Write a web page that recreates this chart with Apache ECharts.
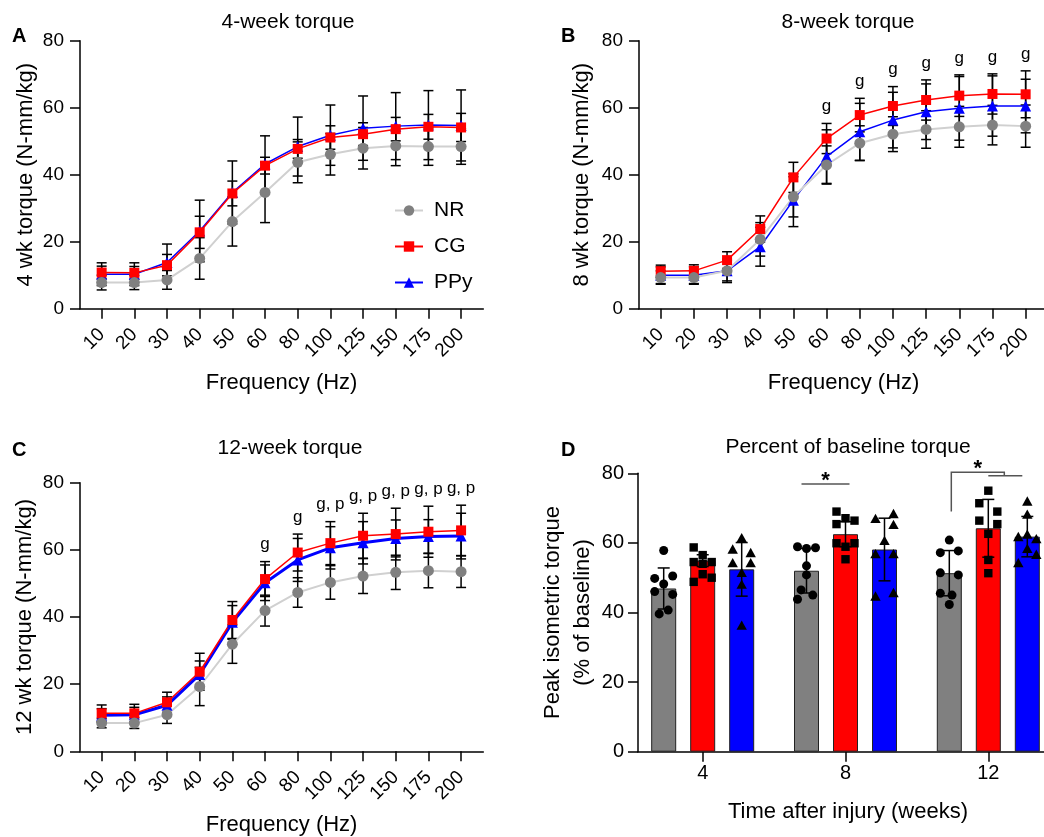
<!DOCTYPE html>
<html><head><meta charset="utf-8">
<script src="https://cdn.jsdelivr.net/npm/echarts@6/dist/echarts.min.js"></script>
<style>html,body{margin:0;padding:0;background:#fff}#c{width:1044px;height:837px}</style>
</head><body><div id="c"></div>
<script>
const FONT = '"Liberation Sans", Arial, Helvetica, sans-serif';

// ---------- data ----------
const freqLabels = ['10','20','30','40','50','60','80','100','125','150','175','200'];

// Panel A (4 weeks) mean / SD, N-mm/kg
const nrA  = [7.8, 7.8, 8.6, 15.0, 26.0, 34.7, 43.7, 46.1, 47.9, 48.6, 48.4, 48.4];
const nrA_sd = [2.2, 2.1, 2.8, 6.2, 7.3, 9.0, 6.1, 6.2, 6.2, 5.9, 5.6, 5.3];
const cgA  = [10.8, 10.7, 13.0, 22.8, 34.4, 42.7, 47.7, 51.1, 52.1, 53.6, 54.3, 54.1];
const cgA_sd = [1.9, 1.9, 3.2, 4.8, 3.7, 2.5, 2.8, 3.5, 3.4, 3.5, 3.7, 4.2];
const ppyA = [10.3, 10.3, 13.8, 23.2, 34.7, 43.2, 48.4, 51.8, 53.9, 54.5, 54.8, 54.7];
const ppyA_sd = [3.4, 3.4, 5.5, 9.2, 9.4, 8.4, 8.8, 9.0, 9.6, 10.0, 10.3, 10.6];

// Panel B (8 weeks)
const nrB  = [9.3, 9.3, 11.3, 20.7, 33.4, 42.9, 49.4, 52.1, 53.5, 54.3, 54.8, 54.5];
const nrB_sd = [2.0, 2.0, 3.0, 5.0, 6.0, 5.7, 5.2, 5.2, 5.6, 6.1, 5.9, 6.3];
const cgB  = [11.2, 11.3, 14.5, 23.8, 39.2, 50.8, 57.8, 60.5, 62.3, 63.6, 64.1, 64.0];
const cgB_sd = [1.8, 1.8, 2.5, 3.9, 4.5, 4.5, 5.0, 5.8, 6.0, 6.2, 6.0, 7.0];
const ppyB = [10.0, 10.0, 11.3, 18.5, 32.4, 45.4, 52.8, 56.3, 58.8, 59.8, 60.5, 60.5];
const ppyB_sd = [2.5, 2.5, 3.5, 5.8, 7.9, 8.0, 8.5, 8.3, 8.3, 9.5, 9.0, 8.0];
const sigB = ['', '', '', '', '', 'g', 'g', 'g', 'g', 'g', 'g', 'g'];

// Panel C (12 weeks)
const nrC  = [8.4, 8.4, 10.9, 19.3, 31.9, 41.9, 47.3, 50.3, 52.2, 53.3, 53.8, 53.5];
const nrC_sd = [1.4, 1.6, 2.6, 5.7, 5.7, 4.6, 4.4, 5.0, 5.2, 5.1, 5.1, 4.7];
const cgC  = [11.3, 11.3, 14.6, 23.7, 39.1, 51.3, 59.2, 62.0, 64.2, 64.7, 65.4, 65.8];
const cgC_sd = [2.5, 2.7, 3.0, 5.5, 5.5, 5.2, 5.5, 6.4, 6.7, 7.7, 7.6, 7.5];
const ppyC = [10.7, 10.9, 13.7, 22.9, 38.4, 50.2, 57.0, 60.6, 62.1, 63.4, 64.0, 64.1];
const ppyC_sd = [2.0, 2.2, 2.5, 4.0, 5.0, 5.3, 6.4, 6.3, 6.3, 5.5, 5.0, 6.8];
const sigC = ['', '', '', '', '', 'g', 'g', 'g, p', 'g, p', 'g, p', 'g, p', 'g, p'];

// Panel D (% of baseline), groups = weeks
const weekLabels = ['4', '8', '12'];
const nrD  = [46.9, 52.0, 51.3];
const nrD_sd = [5.9, 6.4, 6.5];
const cgD  = [54.9, 62.5, 64.2];
const cgD_sd = [1.7, 3.6, 8.3];
const ppyD = [52.4, 58.1, 61.8];
const ppyD_sd = [7.7, 9.0, 5.8];
// individual animals: [value, column (-1 left, 0 centre, 1 right)]
const nrD_pts = [
  [[57.8,0],[49.8,-1],[50.5,1],[48.2,0],[46.0,-1],[45.2,1],[39.6,-0.5],[40.7,0.5]],
  [[58.9,-1],[58.4,0],[58.6,1],[53.4,0],[50.8,0],[46.5,-0.6],[43.8,-1],[45.0,0.7]],
  [[60.8,0],[57.2,-1],[57.7,1],[51.4,-1],[50.8,1],[45.5,-1],[45.0,0.3],[42.3,0]]
];
const cgD_pts = [
  [[58.7,-1],[56.5,0],[54.5,-1],[54.0,0],[54.5,1],[51.0,0],[50.0,1],[48.8,-1]],
  [[69.0,-1],[67.1,0],[65.4,-1],[66.4,1],[59.9,-1],[58.9,0],[59.9,1],[55.3,0]],
  [[75.0,0],[71.4,-1],[69.0,1],[66.4,-1],[65.4,1],[62.6,0],[55.1,0],[51.3,0]]
];
const ppyD_pts = [
  [[61.3,0],[58.0,-1],[57.0,1],[54.1,-1],[54.1,1],[51.3,0],[47.9,0],[36.1,0]],
  [[66.8,-1],[68.2,1],[65.1,1],[60.5,0],[56.7,-1],[56.7,1],[44.5,-1],[45.5,1]],
  [[71.8,0],[68.0,0],[61.6,-1],[62.3,0],[61.0,1],[58.2,0],[54.1,-1],[56.5,1]]
];
// significance brackets in D (heights in % of baseline)
const sigDLevel = [76.9, 80.3];
const sigDSubLevel = 79.3;
const sigDLegLow = 69.0;

// ---------- styles ----------
const STY = {
  NR:  {symbol:'circle',   size:11, color:'#808080', line:'#d0d0d0', lw:2},
  CG:  {symbol:'rect',     size:10, color:'#ff0000', line:'#ff0000', lw:1.5},
  PPy: {symbol:'triangle', size:11, color:'#0000ff', line:'#0000ff', lw:1.5}
};
const AX = {color:'#000', width:1.5};

function errShape(api, dx, half) {
  const x = api.value(0), m = api.value(1), s = api.value(2);
  const t = api.coord([x, m + s]), b = api.coord([x, m - s]);
  const cx = t[0] + dx;
  const st = {stroke:'#000', lineWidth:1.5};
  return {type:'group', children:[
    {type:'line', shape:{x1:cx, y1:t[1], x2:cx, y2:b[1]}, style:st},
    {type:'line', shape:{x1:cx-half, y1:t[1], x2:cx+half, y2:t[1]}, style:st},
    {type:'line', shape:{x1:cx-half, y1:b[1], x2:cx+half, y2:b[1]}, style:st}
  ]};
}
function errSeries(gi, means, sds) {
  return {type:'custom', xAxisIndex:gi, yAxisIndex:gi, z:2, silent:true, clip:false,
    data: means.map((m,i)=>[i, m, sds[i]]), encode:{x:0, y:1},
    renderItem:(p, api)=>errShape(api, 0, 5)};
}
function lineSeries(gi, name, means, lw) {
  const s = STY[name];
  return {type:'line', name, xAxisIndex:gi, yAxisIndex:gi, z:3, silent:true,
    data: means.map((v,i)=>[i, v]), symbol:s.symbol, symbolSize:s.size,
    itemStyle:{color:s.color}, lineStyle:{color:s.line, width: lw || s.lw}};
}
function sigSeries(gi, labels, groups) {
  const tops = labels.map((_, i) => Math.max(...groups.map(g => g[0][i] + g[1][i])));
  return {type:'custom', xAxisIndex:gi, yAxisIndex:gi, z:4, silent:true, clip:false,
    data: tops.map((t,i)=>[i, t]), encode:{x:0, y:1},
    renderItem:(p, api)=>{
      const txt = labels[p.dataIndex];
      if (!txt) return null;
      const c = api.coord([api.value(0), api.value(1)]);
      return {type:'text', x:c[0], y:c[1]-17,
        style:{text:txt, fontSize:17, fontFamily:FONT, fill:'#000', align:'center', verticalAlign:'middle'}};
    }};
}
function freqAxis(gi, min, max) {
  const idx = freqLabels.map((_,i)=>i);
  return {type:'value', gridIndex:gi, min, max,
    name:'Frequency (Hz)', nameLocation:'middle', nameGap:63,
    nameTextStyle:{fontSize:22, fontFamily:FONT, color:'#000'},
    axisLine:{show:true, onZero:false, lineStyle:AX},
    axisTick:{show:true, length:10, customValues:idx, lineStyle:AX},
    axisLabel:{customValues:idx, formatter:v=>freqLabels[Math.round(v)], rotate:45, margin:23,
      fontSize:19, fontFamily:FONT, color:'#000'},
    splitLine:{show:false}};
}
function torqueAxis(gi, name, gap) {
  return {type:'value', gridIndex:gi, min:0, max:80, interval:20,
    name, nameLocation:'middle', nameGap:gap, nameRotate:90,
    nameTextStyle:{fontSize:22, fontFamily:FONT, color:'#000'},
    axisLine:{show:true, onZero:false, lineStyle:AX},
    axisTick:{show:true, length:10, lineStyle:AX},
    axisLabel:{fontSize:19, fontFamily:FONT, color:'#000', margin:16},
    splitLine:{show:false}};
}

// ---------- panel D helpers ----------
const BAR_OFF = {NR:-39, CG:0, PPy:39};
function barSeries(name, vals) {
  return {type:'bar', name, xAxisIndex:3, yAxisIndex:3, z:2, silent:true,
    data: vals.map((v,i)=>[i, v]), barWidth:25, barGap:'56%',
    itemStyle:{color:STY[name].color, borderColor:'#222', borderWidth:1}};
}
function ptSeries(name, pts) {
  const data = [];
  pts.forEach((grp, g) => grp.forEach(p => data.push([g, p[0], p[1]])));
  const kind = STY[name].symbol, off = BAR_OFF[name];
  return {type:'custom', xAxisIndex:3, yAxisIndex:3, z:3, silent:true, clip:false,
    data, encode:{x:0, y:1},
    renderItem:(p, api)=>{
      const c = api.coord([api.value(0), api.value(1)]);
      const x = c[0] + off + api.value(2) * 9, y = c[1];
      const st = {fill:'#000'};
      if (kind === 'circle') return {type:'circle', shape:{cx:x, cy:y, r:4.5}, style:st};
      if (kind === 'rect') return {type:'rect', shape:{x:x-4.2, y:y-4.2, width:8.4, height:8.4}, style:st};
      return {type:'polygon', shape:{points:[[x, y-5.5],[x+5.2, y+3.8],[x-5.2, y+3.8]]}, style:st};
    }};
}
function barErrSeries(name, means, sds) {
  return {type:'custom', xAxisIndex:3, yAxisIndex:3, z:4, silent:true, clip:false,
    data: means.map((m,i)=>[i, m, sds[i]]), encode:{x:0, y:1},
    renderItem:(p, api)=>errShape(api, BAR_OFF[name], 6)};
}
const sigDSeries = {
  type:'custom', xAxisIndex:3, yAxisIndex:3, z:5, silent:true, clip:false,
  data: [[1, sigDLevel[0]], [2, sigDLevel[1]]], encode:{x:0, y:1},
  renderItem:(p, api)=>{
    const g = api.value(0), lvl = api.value(1);
    const c = api.coord([g, lvl]);
    const st = {stroke:'#555', lineWidth:1.5};
    const star = (x, y) => ({type:'text', x, y, style:{text:'*', fontSize:22, fontWeight:'bold', fontFamily:FONT, fill:'#000', align:'center', verticalAlign:'middle'}});
    if (p.dataIndex === 0) {
      const x1 = c[0] + BAR_OFF.NR - 5, x2 = c[0] + BAR_OFF.CG + 4;
      return {type:'group', children:[
        {type:'line', shape:{x1, y1:c[1], x2, y2:c[1]}, style:st},
        star((x1+x2)/2, c[1]-3)]};
    }
    const low = api.coord([g, sigDLegLow])[1];
    const sub = api.coord([g, sigDSubLevel])[1];
    const xl = c[0] + BAR_OFF.NR + 2;
    const xr1 = c[0] + BAR_OFF.CG, xr2 = c[0] + BAR_OFF.PPy - 5;
    const xm = c[0] + 16;
    return {type:'group', children:[
      {type:'polyline', shape:{points:[[xl, low],[xl, c[1]],[xm, c[1]],[xm, sub]]}, style:{...st, fill:null}},
      {type:'line', shape:{x1:xr1, y1:sub, x2:xr2, y2:sub}, style:st},
      star((xl+xm)/2, c[1]-3)]};
  }
};

const titleStyle = {fontSize:21, fontWeight:'normal', fontFamily:FONT, color:'#000'};
const letterStyle = {fontSize:20, fontWeight:'bold', fontFamily:FONT, color:'#000'};

const option = {
  animation:false,
  backgroundColor:'#fff',
  title:[
    {text:'4-week torque', left:283, top:7, textAlign:'center', textStyle:titleStyle},
    {text:'8-week torque', left:843, top:7, textAlign:'center', textStyle:titleStyle},
    {text:'12-week torque', left:285, top:433, textAlign:'center', textStyle:titleStyle},
    {text:'Percent of baseline torque', left:843, top:432, textAlign:'center', textStyle:titleStyle},
    {text:'A', left:7, top:21, textStyle:letterStyle},
    {text:'B', left:556, top:21, textStyle:letterStyle},
    {text:'C', left:7, top:435, textStyle:letterStyle},
    {text:'D', left:556, top:435, textStyle:letterStyle}
  ],
  legend:{data:['NR','CG','PPy'], orient:'vertical', left:389, top:195, itemWidth:28, itemHeight:13, itemGap:15,
    textStyle:{fontSize:21, fontFamily:FONT, color:'#000', padding:[0,0,0,6]}, selectedMode:false},
  grid:[
    {left:80, top:40.7, width:403.3, height:268, outerBoundsMode:'none'},
    {left:639, top:40.7, width:409.2, height:268, outerBoundsMode:'none'},
    {left:80, top:482.7, width:403.3, height:268.6, outerBoundsMode:'none'},
    {left:638, top:473.3, width:420, height:278.4, outerBoundsMode:'none'}
  ],
  xAxis:[
    freqAxis(0, -0.663, 11.68),
    freqAxis(1, -0.654, 11.68),
    freqAxis(2, -0.663, 11.68),
    {type:'value', gridIndex:3, min:-0.453, max:2.488,
      name:'Time after injury (weeks)', nameLocation:'middle', nameGap:49,
      nameTextStyle:{fontSize:22, fontFamily:FONT, color:'#000'},
      axisLine:{show:true, onZero:false, lineStyle:AX},
      axisTick:{show:true, length:10, customValues:[0,1,2], lineStyle:AX},
      axisLabel:{customValues:[0,1,2], formatter:v=>weekLabels[Math.round(v)], margin:12,
        fontSize:20, fontFamily:FONT, color:'#000'},
      splitLine:{show:false}}
  ],
  yAxis:[
    torqueAxis(0, '4 wk torque (N-mm/kg)', 43),
    torqueAxis(1, '8 wk torque (N-mm/kg)', 46),
    torqueAxis(2, '12 wk torque (N-mm/kg)', 44),
    {type:'value', gridIndex:3, min:0, max:80, interval:20,
      name:'Peak isometric torque\n(% of baseline)', nameLocation:'middle', nameGap:40, nameRotate:90,
      nameTextStyle:{fontSize:22, fontFamily:FONT, color:'#000', lineHeight:30},
      axisLine:{show:true, onZero:false, lineStyle:AX},
      axisTick:{show:true, length:10, lineStyle:AX},
      axisLabel:{fontSize:20, fontFamily:FONT, color:'#000', margin:14},
      splitLine:{show:false}}
  ],
  series:[
    // A
    lineSeries(0, 'PPy', ppyA), lineSeries(0, 'CG', cgA), lineSeries(0, 'NR', nrA),
    errSeries(0, ppyA, ppyA_sd), errSeries(0, cgA, cgA_sd), errSeries(0, nrA, nrA_sd),
    // B
    lineSeries(1, 'PPy', ppyB), lineSeries(1, 'CG', cgB), lineSeries(1, 'NR', nrB),
    errSeries(1, ppyB, ppyB_sd), errSeries(1, cgB, cgB_sd), errSeries(1, nrB, nrB_sd),
    sigSeries(1, sigB, [[nrB, nrB_sd], [cgB, cgB_sd], [ppyB, ppyB_sd]]),
    // C
    lineSeries(2, 'PPy', ppyC, 3), lineSeries(2, 'CG', cgC), lineSeries(2, 'NR', nrC),
    errSeries(2, ppyC, ppyC_sd), errSeries(2, cgC, cgC_sd), errSeries(2, nrC, nrC_sd),
    sigSeries(2, sigC, [[nrC, nrC_sd], [cgC, cgC_sd], [ppyC, ppyC_sd]]),
    // D
    barSeries('NR', nrD), barSeries('CG', cgD), barSeries('PPy', ppyD),
    ptSeries('NR', nrD_pts), ptSeries('CG', cgD_pts), ptSeries('PPy', ppyD_pts),
    barErrSeries('NR', nrD, nrD_sd), barErrSeries('CG', cgD, cgD_sd), barErrSeries('PPy', ppyD, ppyD_sd),
    sigDSeries
  ]
};
const chart = echarts.init(document.getElementById('c'), null, {renderer:'canvas'});
chart.setOption(option);
</script>
</body></html>
